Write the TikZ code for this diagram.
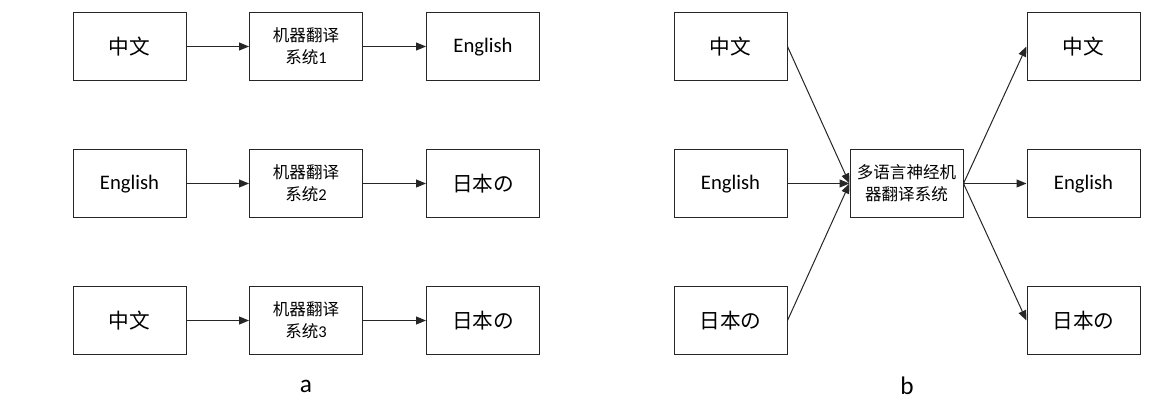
\documentclass[tikz,border=0pt]{standalone}
\usepackage{fontspec}
\setmainfont{Carlito}
\newfontfamily\cjk{Noto Sans CJK SC}
\usetikzlibrary{arrows.meta}
\begin{document}
\begin{tikzpicture}[x=0.75pt,y=-0.75pt,
 box/.style={draw=black!85,line width=0.75pt,minimum width=84.75pt,minimum height=50.5pt,inner sep=0pt,align=center},
 big/.style={box,font=\fontsize{15.5}{18}\selectfont},
 eng/.style={big,text height=11pt,text depth=2pt},
 sys/.style={box,font=\fontsize{12.4}{16.3}\selectfont},
 arr/.style={-{Triangle[length=7.5pt,width=6pt]},line width=0.75pt,draw=black!85},
 lab/.style={font=\fontsize{19}{22}\selectfont}]
\useasboundingbox (0,0) rectangle (1152,407);
% diagram a
\node[big] (a1) at (129.5,46.5) {\cjk 中文};
\node[sys] (s1) at (306,46.5) {{\cjk 机器翻译}\\{\cjk 系统}1};
\node[eng] (o1) at (483,46.5) {English};
\node[eng] (a2) at (129.5,183.5) {English};
\node[sys] (s2) at (306,183.5) {{\cjk 机器翻译}\\{\cjk 系统}2};
\node[big] (o2) at (483,183.5) {\cjk 日本の};
\node[big] (a3) at (129.5,320.5) {\cjk 中文};
\node[sys] (s3) at (306,320.5) {{\cjk 机器翻译}\\{\cjk 系统}3};
\node[big] (o3) at (483,320.5) {\cjk 日本の};
\foreach \i in {1,2,3}{
 \draw[arr] (a\i) -- (s\i);
 \draw[arr] (s\i) -- (o\i);
}
\node[lab] (la) at (306,386) {a};
% diagram b
\node[big] (b1) at (730.5,46.5) {\cjk 中文};
\node[eng] (b2) at (730.5,183.5) {English};
\node[big] (b3) at (730.5,320.5) {\cjk 日本の};
\node[sys] (m) at (906.5,183.5) {{\cjk 多语言神经机}\\{\cjk 器翻译系统}};
\node[big] (c1) at (1083.5,46.5) {\cjk 中文};
\node[eng] (c2) at (1083.5,183.5) {English};
\node[big] (c3) at (1083.5,320.5) {\cjk 日本の};
\foreach \i in {1,2,3}{
 \draw[arr] (b\i.east) -- (m.west);
 \draw[arr] (m.east) -- (c\i.west);
}
\node[lab] (lb) at (907,386) {b};
\end{tikzpicture}
\end{document}
